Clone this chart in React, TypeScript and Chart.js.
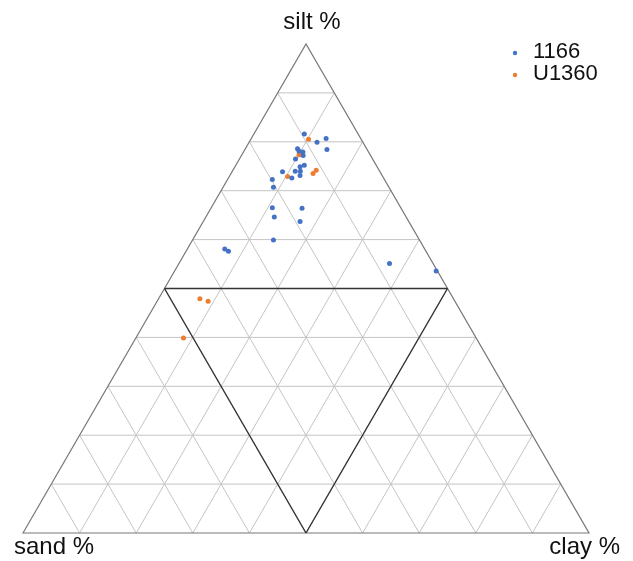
import React, { useEffect, useRef } from "react";
import { Chart, registerables } from "chart.js";

Chart.register(...registerables);

// Series "1166" (percentages)
const sand1166 = [9.5, 8.1, 6.1, 7.1, 12.2, 11.6, 11.9, 13.6, 12.7, 13.6, 14.9, 14.0, 17.2, 14.5, 16.2, 19.8, 20.4, 22.7, 17.5, 23.3, 19.2, 25.8, 35.3, 34.9, 7.7, 0.2, 12.2];
const silt1166 = [81.6, 79.9, 80.7, 78.4, 78.6, 77.9, 77.2, 76.5, 75.2, 74.9, 74.0, 74.0, 73.9, 73.1, 72.6, 72.3, 70.7, 66.5, 66.4, 64.6, 63.7, 59.9, 58.1, 57.6, 55.1, 53.6, 78.1];
const clay1166 = [8.9, 12.0, 13.2, 14.5, 9.2, 10.5, 10.9, 9.9, 12.1, 11.5, 11.1, 12.0, 8.9, 12.4, 11.2, 7.9, 8.9, 10.8, 16.1, 12.1, 17.1, 14.3, 6.6, 7.5, 37.2, 46.2, 9.7];

// Series "U1360" (percentages)
const sandU1360 = [9.3, 12.6, 11.9, 11.1, 12.0, 16.8, 44.8, 43.6, 51.7];
const siltU1360 = [80.5, 77.3, 77.6, 74.2, 73.5, 72.9, 47.9, 47.4, 39.9];
const clayU1360 = [10.2, 10.1, 10.5, 14.7, 14.5, 10.3, 7.3, 9.0, 8.4];

const seriesNames = ["1166", "U1360"];
const seriesColors = ["#4472C4", "#ED7D31"];
const axisLabels = ["sand %", "silt %", "clay %"];
const gridSteps = [10, 20, 30, 40, 50, 60, 70, 80, 90];

const S3 = Math.sqrt(3) / 2;
const toXY = (sand: number, silt: number, clay: number) => {
  const t = sand + silt + clay;
  const si = (silt / t) * 100;
  const cl = (clay / t) * 100;
  return { x: cl + si / 2, y: si * S3 };
};

const buildPoints = (sa: number[], si: number[], cl: number[]) =>
  sa.map((v, i) => toXY(v, si[i], cl[i]));

const FONT = "'Liberation Sans', Arial, sans-serif";

const ternaryPlugin = {
  id: "ternary",
  beforeDatasetsDraw(chart: any) {
    const { ctx, scales } = chart;
    const xs = scales.x;
    const ys = scales.y;
    const P = (sa: number, si: number, cl: number) => {
      const p = toXY(sa, si, cl);
      return [xs.getPixelForValue(p.x), ys.getPixelForValue(p.y)];
    };
    const line = (a: number[], b: number[]) => {
      ctx.beginPath();
      ctx.moveTo(a[0], a[1]);
      ctx.lineTo(b[0], b[1]);
      ctx.stroke();
    };
    ctx.save();
    ctx.strokeStyle = "#c4c4c4";
    ctx.lineWidth = 1;
    for (const k of gridSteps) {
      line(P(100 - k, k, 0), P(0, k, 100 - k));
      line(P(100 - k, 0, k), P(0, 100 - k, k));
      line(P(k, 100 - k, 0), P(k, 0, 100 - k));
    }
    // outline
    ctx.strokeStyle = "#777777";
    ctx.lineWidth = 1.2;
    const A = P(100, 0, 0);
    const B = P(0, 100, 0);
    const C = P(0, 0, 100);
    ctx.beginPath();
    ctx.moveTo(A[0], A[1]);
    ctx.lineTo(B[0], B[1]);
    ctx.lineTo(C[0], C[1]);
    ctx.closePath();
    ctx.stroke();
    // 50% lines
    ctx.strokeStyle = "#333333";
    ctx.lineWidth = 1.4;
    line(P(50, 50, 0), P(0, 50, 50));
    line(P(50, 50, 0), P(50, 0, 50));
    line(P(0, 50, 50), P(50, 0, 50));
    ctx.restore();
  },
  afterDraw(chart: any) {
    const { ctx, scales } = chart;
    const xs = scales.x;
    const ys = scales.y;
    ctx.save();
    ctx.fillStyle = "#111111";
    ctx.font = `24px ${FONT}`;
    ctx.textBaseline = "alphabetic";
    const top = [xs.getPixelForValue(50), ys.getPixelForValue(100 * S3)];
    const left = [xs.getPixelForValue(0), ys.getPixelForValue(0)];
    const right = [xs.getPixelForValue(100), ys.getPixelForValue(0)];
    ctx.textAlign = "center";
    ctx.fillText(axisLabels[1], top[0] + 6, top[1] - 15);
    ctx.textAlign = "left";
    ctx.fillText(axisLabels[0], left[0] - 9, left[1] + 21);
    ctx.textAlign = "right";
    ctx.fillText(axisLabels[2], right[0] + 31, right[1] + 21);
    // legend
    ctx.font = `22px ${FONT}`;
    ctx.textAlign = "left";
    seriesNames.forEach((name, i) => {
      const by = 50 + i * 22;
      ctx.fillStyle = seriesColors[i];
      ctx.beginPath();
      ctx.arc(507, by - 5, 2.2, 0, Math.PI * 2);
      ctx.fill();
      ctx.fillStyle = "#111111";
      ctx.fillText(name, 525, by);
    });
    ctx.restore();
  },
};

export default function App() {
  const ref = useRef<HTMLCanvasElement | null>(null);
  useEffect(() => {
    if (!ref.current) return;
    const chart = new Chart(ref.current, {
      type: "scatter",
      data: {
        datasets: [
          {
            label: seriesNames[0],
            data: buildPoints(sand1166, silt1166, clay1166),
            backgroundColor: seriesColors[0],
            borderColor: seriesColors[0],
            pointRadius: 2.5,
            borderWidth: 0,
          },
          {
            label: seriesNames[1],
            data: buildPoints(sandU1360, siltU1360, clayU1360),
            backgroundColor: seriesColors[1],
            borderColor: seriesColors[1],
            pointRadius: 2.5,
            borderWidth: 0,
          },
        ],
      },
      options: {
        animation: false,
        responsive: true,
        maintainAspectRatio: false,
        layout: { padding: { left: 15, right: 36, top: 36, bottom: 28 } },
        scales: {
          x: { type: "linear", min: 0, max: 100, display: false },
          y: { type: "linear", min: 0, max: 100 * S3, display: false },
        },
        plugins: {
          legend: { display: false },
          tooltip: { enabled: false },
        },
      },
      plugins: [ternaryPlugin],
    });
    return () => chart.destroy();
  }, []);
  return (
    <div style={{ width: 617, height: 553, position: "relative" }}>
      <canvas ref={ref} />
    </div>
  );
}
